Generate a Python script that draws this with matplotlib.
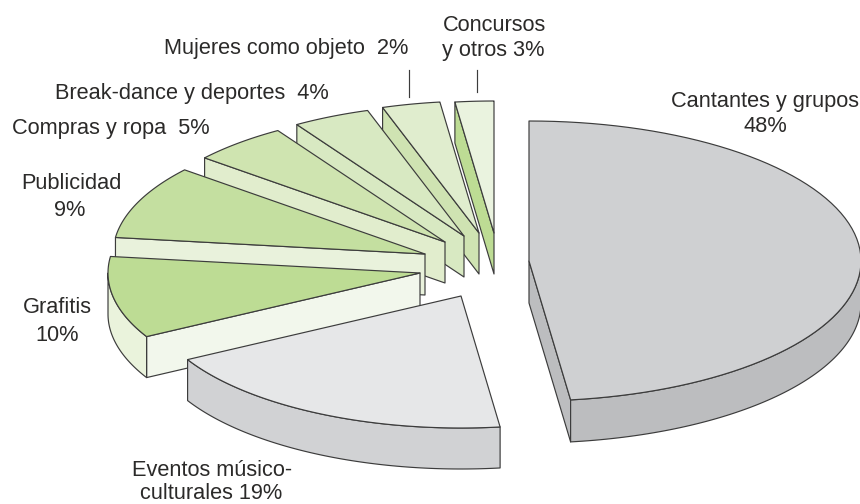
import numpy as np
import matplotlib
matplotlib.use("Agg")
import matplotlib.pyplot as plt
from matplotlib.patches import Polygon

plt.rcParams['font.family'] = ['Liberation Sans', 'DejaVu Sans']

# Order follows the wedges clockwise from twelve o'clock.
categories = ["Cantantes y grupos", "Eventos músico-culturales", "Grafitis", "Publicidad",
              "Compras y ropa", "Break-dance y deportes", "Mujeres como objeto", "Concursos y otros"]
# Printed percentages.
printed_pct = [48, 19, 10, 9, 5, 4, 2, 3]
# Widths as the reference draws them: its last two wedges are swapped relative to the printed labels.
drawn_pct = [48, 19, 10, 9, 5, 4, 3, 2]

apex_x = [529, 461, 420, 425, 445, 464, 479, 494]
apex_y = [261, 296, 273, 254, 242, 236, 233, 233]
radius_x = [332, 312, 312, 312, 312, 312, 312, 312]
radius_y = [140, 132, 132, 132, 132, 132, 132, 132]
depths = [42, 41, 41, 41, 41, 41, 41, 41]
top_colors = ["#CFD0D2", "#E6E7E8", "#BDDC94", "#C4DFA0", "#CFE4B0", "#D8E9C2", "#E0EDCE", "#EAF3DF"]
arc_colors = ["#BCBDBF", "#D1D2D4", "#EAF3DC", "#E9F2DC", "#E1EDCD", "#D8E9C2", "#CFE3B2", "#BDDC94"]
radial_colors = ["#BCBDBF", "#D1D2D4", "#F2F7EC", "#E9F2DC", "#E1EDCD", "#D8E9C2", "#CFE3B2", "#BDDC94"]
edge = "#3c3c3c"
lw = 0.85
text_color = "#2B2A29"
fs = 15.7

fig = plt.figure(figsize=(8.6, 5.04), dpi=100)
ax = fig.add_axes([0, 0, 1, 1])
ax.set_xlim(0, 860)
ax.set_ylim(504, 0)
ax.axis("off")

ends = np.cumsum(drawn_pct) * 3.6
starts = np.r_[0, ends[:-1]]


def pt(i, t):
    a = np.radians(t)
    return apex_x[i] + radius_x[i] * np.sin(a), apex_y[i] - radius_y[i] * np.cos(a)


def arc(i, t0, t1):
    ts = np.linspace(t0, t1, 80)
    a = np.radians(ts)
    return np.c_[apex_x[i] + radius_x[i] * np.sin(a), apex_y[i] - radius_y[i] * np.cos(a)]


def face(xy, color, z):
    ax.add_patch(Polygon(xy, closed=True, facecolor=color, edgecolor=edge, linewidth=lw,
                         joinstyle="round", zorder=z))


# Back to front: last wedge first.
for i in range(len(drawn_pct) - 1, -1, -1):
    t0, t1 = starts[i], ends[i]
    z = 10 + (len(drawn_pct) - i) * 3
    c = np.array([apex_x[i], apex_y[i]])
    d = np.array([0, depths[i]])
    # radial faces
    if t0 > 180:
        p = np.array(pt(i, t0))
        face([p, c, c + d, p + d], radial_colors[i], z)
    if t1 < 180:
        p = np.array(pt(i, t1))
        face([p, c, c + d, p + d], radial_colors[i], z)
    # outer cylindrical face
    lo, hi = max(t0, 90), min(t1, 270)
    if lo < hi:
        a = arc(i, lo, hi)
        face(np.r_[a, (a + d)[::-1]], arc_colors[i], z + 1)
    # top
    face(np.r_[[c], arc(i, t0, t1)], top_colors[i], z + 2)

# Leaders
ax.plot([408.5, 408.5], [70, 97], color=edge, lw=0.85, zorder=50)
ax.plot([476.5, 476.5], [70, 92], color=edge, lw=0.85, zorder=50)

labels = [
    ("Cantantes y grupos", 765, 107, "center"),
    (f"{printed_pct[0]}%", 765.5, 132, "center"),
    ("Eventos músico-", 212, 476, "center"),
    (f"culturales {printed_pct[1]}%", 211, 499, "center"),
    ("Grafitis", 57, 313, "center"),
    (f"{printed_pct[2]}%", 57, 341, "center"),
    ("Publicidad", 71, 189, "center"),
    (f"{printed_pct[3]}%", 70, 216, "center"),
    (f"Compras y ropa  {printed_pct[4]}%", 12, 134, "left"),
    (f"Break-dance y deportes  {printed_pct[5]}%", 55, 99, "left"),
    (f"Mujeres como objeto  {printed_pct[6]}%", 164, 54, "left"),
    ("Concursos", 494, 31, "center"),
    (f"y otros {printed_pct[7]}%", 493, 56, "center"),
]
for s, x, y, ha in labels:
    ax.text(x, y, s, ha=ha, va="baseline", fontsize=fs, color=text_color, zorder=60)

fig.savefig("out.png", dpi=100)
